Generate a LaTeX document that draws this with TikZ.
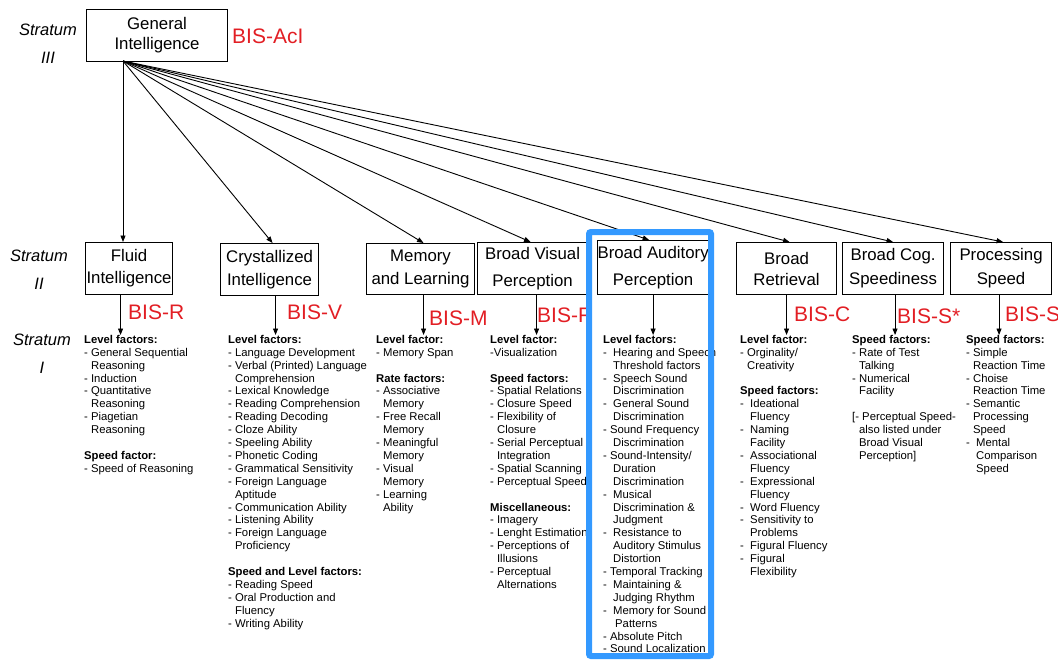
\documentclass[tikz,border=0pt]{standalone}
\usepackage{fontspec}
\setmainfont{Liberation Sans}
\usetikzlibrary{arrows.meta}
\definecolor{bisred}{RGB}{226,30,36}
\definecolor{hlblue}{RGB}{51,153,255}
\newcommand\ia{\hspace*{6.9pt}}
\newcommand\ib{\hspace*{10pt}}
\begin{document}
\begin{tikzpicture}[x=1pt,y=-1pt,
  box/.style={draw, line width=1.1pt, inner sep=0pt, anchor=north west, align=center},
  bt/.style={font=\fontsize{16.8}{#1}\selectfont},
  lst/.style={anchor=north west, inner sep=0pt, align=left, font=\fontsize{11.3}{12.9}\selectfont},
  bis/.style={anchor=west, inner sep=0pt, text=bisred, font=\fontsize{21}{24}\selectfont},
  strat/.style={inner sep=0pt, align=center, font=\fontsize{16.5}{28}\selectfont\itshape},
  arr/.style={line width=0.9pt, -{Triangle[length=6.5pt,width=5pt]}},
  hl/.style={draw=hlblue, line width=6pt, rounded corners=2pt}]
\useasboundingbox (0,0) rectangle (1058,659);

% stratum labels
\node[strat] (s3) at (48,44) {Stratum\\III};
\node[strat] (s2) at (39,270) {Stratum\\II};
\node[strat] (s1) at (42,354) {Stratum\\I};

% boxes
\node[box, bt=20, minimum width=141, minimum height=52] (gi) at (86,9) {General\\Intelligence};
\node[box, bt=22, minimum width=87, minimum height=52] (fl) at (85,242) {Fluid\\Intelligence};
\node[box, bt=23, minimum width=98, minimum height=52] (cr) at (220,243) {Crystallized\\Intelligence};
\node[box, bt=23, minimum width=108, minimum height=51] (me) at (366,243) {Memory\\and Learning};
\node[box, bt=27, minimum width=110, minimum height=52] (bv) at (477,242) {Broad Visual\\Perception};
\node[box, bt=27, minimum width=108, minimum height=54] (ba) at (597,240) {Broad Auditory\\Perception};
\node[box, bt=21, minimum width=100, minimum height=52] (br) at (736,242) {Broad\\Retrieval};
\node[box, bt=24, minimum width=101, minimum height=52] (bc) at (842,242) {Broad Cog.\\Speediness};
\node[box, bt=24, minimum width=101, minimum height=52] (ps) at (950,242) {Processing\\Speed};

% BIS labels
\node[bis] (b0) at (232,36) {BIS-AcI};
\node[bis] (b1) at (128,312) {BIS-R};
\node[bis] (b2) at (287,312) {BIS-V};
\node[bis] (b3) at (429,318) {BIS-M};
\node[bis] (b4) at (537,315) {BIS-F};
\node[bis] (b5) at (794,314) {BIS-C};
\node[bis] (b6) at (897,316) {BIS-S*};
\node[bis] (b7) at (1005,314) {BIS-S};

% lists
\node[lst] (lf) at (84,335) {\textbf{Level factors:}\\
- General Sequential\\
\ia Reasoning\\
- Induction\\
- Quantitative\\
\ia Reasoning\\
- Piagetian\\
\ia Reasoning\\[12.9pt]
\textbf{Speed factor:}\\
- Speed of Reasoning};

\node[lst] (lc) at (228,335) {\textbf{Level factors:}\\
- Language Development\\
- Verbal (Printed) Language\\
\ia Comprehension\\
- Lexical Knowledge\\
- Reading Comprehension\\
- Reading Decoding\\
- Cloze Ability\\
- Speeling Ability\\
- Phonetic Coding\\
- Grammatical Sensitivity\\
- Foreign Language\\
\ia Aptitude\\
- Communication Ability\\
- Listening Ability\\
- Foreign Language\\
\ia Proficiency\\[12.9pt]
\textbf{Speed and Level factors:}\\
- Reading Speed\\
- Oral Production and\\
\ia Fluency\\
- Writing Ability};

\node[lst] (lm) at (376,335) {\textbf{Level factor:}\\
- Memory Span\\[12.9pt]
\textbf{Rate factors:}\\
- Associative\\
\ia Memory\\
- Free Recall\\
\ia Memory\\
- Meaningful\\
\ia Memory\\
- Visual\\
\ia Memory\\
- Learning\\
\ia Ability};

\node[lst] (lv) at (490,335) {\textbf{Level factor:}\\
-Visualization\\[12.9pt]
\textbf{Speed factors:}\\
- Spatial Relations\\
- Closure Speed\\
- Flexibility of\\
\ia Closure\\
- Serial Perceptual\\
\ia Integration\\
- Spatial Scanning\\
- Perceptual Speed\\[12.9pt]
\textbf{Miscellaneous:}\\
- Imagery\\
- Lenght Estimation\\
- Perceptions of\\
\ia Illusions\\
- Perceptual\\
\ia Alternations};

\node[lst] (la) at (603,335) {\textbf{Level factors:}\\
-\ \ Hearing and Speech\\
\ib Threshold factors\\
-\ \ Speech Sound\\
\ib Discrimination\\
-\ \ General Sound\\
\ib Discrimination\\
- Sound Frequency\\
\ib Discrimination\\
- Sound-Intensity/\\
\ib Duration\\
\ib Discrimination\\
-\ \ Musical\\
\ib Discrimination \&\\
\ib Judgment\\
-\ \ Resistance to\\
\ib Auditory Stimulus\\
\ib Distortion\\
- Temporal Tracking\\
-\ \ Maintaining \&\\
\ib Judging Rhythm\\
-\ \ Memory for Sound\\
\hspace*{12pt}Patterns\\
- Absolute Pitch\\
- Sound Localization};

\node[lst] (lr) at (740,335) {\textbf{Level factor:}\\
- Orginality/\\
\ia Creativity\\[12.9pt]
\textbf{Speed factors:}\\
-\ \ Ideational\\
\ib Fluency\\
-\ \ Naming\\
\ib Facility\\
-\ \ Associational\\
\ib Fluency\\
-\ \ Expressional\\
\ib Fluency\\
-\ \ Word Fluency\\
-\ \ Sensitivity to\\
\ib Problems\\
-\ \ Figural Fluency\\
-\ \ Figural\\
\ib Flexibility};

\node[lst] (lg) at (852,335) {\textbf{Speed factors:}\\
- Rate of Test\\
\ia Talking\\
- Numerical\\
\ia Facility\\[12.9pt]
{[}- Perceptual Speed-\\
\ia also listed under\\
\ia Broad Visual\\
\ia Perception]};

\node[lst] (lp) at (966,335) {\textbf{Speed factors:}\\
- Simple\\
\ia Reaction Time\\
- Choise\\
\ia Reaction Time\\
- Semantic\\
\ia Processing\\
\ia Speed\\
-\ \ Mental\\
\ib Comparison\\
\ib Speed};

% arrows from general intelligence
\coordinate (gs) at (123,61);
\draw[arr] (gs) -- (gs |- fl.north);
\draw[arr] (gs) -- ([xshift=3pt]cr.north);
\draw[arr] (gs) -- ([xshift=3pt]me.north);
\draw[arr] (gs) -- ([xshift=-2pt]bv.north);
\draw[arr] (gs) -- ([xshift=-4pt]ba.north);
\draw[arr] (gs) -- ([xshift=3pt]br.north);
\draw[arr] (gs) -- (bc.north);
\draw[arr] (gs) -- ([xshift=2pt]ps.north);

% arrows down to factor lists
\draw[arr] ([xshift=-8.5pt]fl.south) -- ([xshift=-8.5pt]fl.south |- lf.north);
\draw[arr] ([xshift=6pt]cr.south) -- ([xshift=6pt]cr.south |- lc.north);
\draw[arr] ([xshift=3pt]me.south) -- ([xshift=3pt]me.south |- lm.north);
\draw[arr] ([xshift=4pt]bv.south) -- ([xshift=4pt]bv.south |- lv.north);
\draw[arr] (ba.south) -- (ba.south |- la.north);
\draw[arr] (br.south) -- (br.south |- lr.north);
\draw[arr] ([xshift=2pt]bc.south) -- ([xshift=2pt]bc.south |- lg.north);
\draw[arr] ([xshift=-2pt]ps.south) -- ([xshift=-2pt]ps.south |- lp.north);

% highlight
\draw[hl] (589,232) rectangle (711,656);
\end{tikzpicture}
\end{document}
